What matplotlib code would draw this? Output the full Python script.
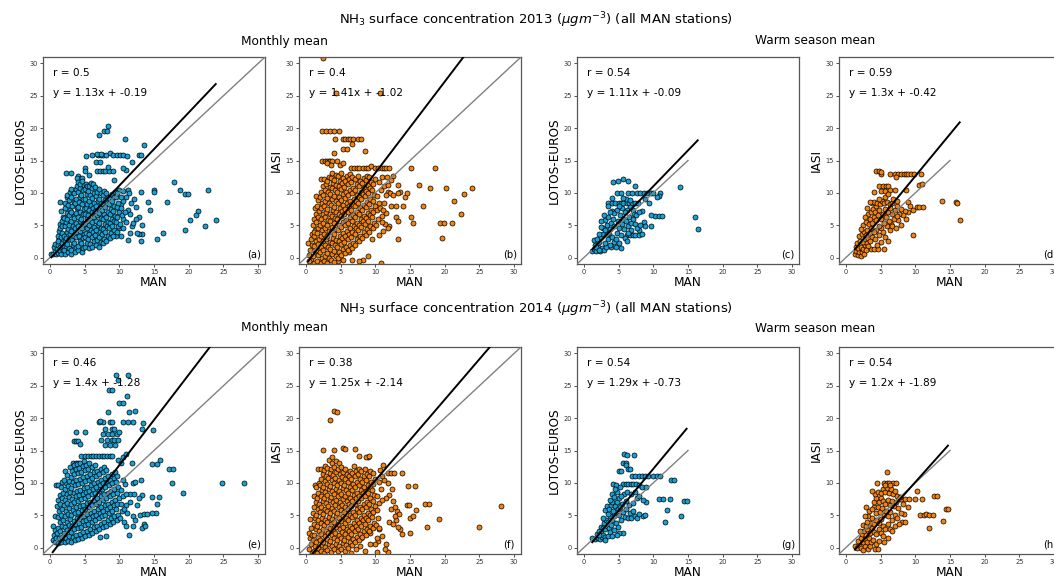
import numpy as np
import matplotlib
matplotlib.use("Agg")
import matplotlib.pyplot as plt

# ---------------- data (MAN, model/satellite) ----------------
a_pts = [
(8.4,20.3),(7.0,19.0),(7.8,19.6),(8.2,19.6),(10.8,18.4),(13.6,17.4),
(5.2,15.7),(6.0,15.8),(6.9,15.9),(7.3,15.9),(7.6,15.8),(8.1,15.9),(8.7,16.2),(9.1,15.8),(9.6,15.8),(10.1,15.8),(10.5,15.8),(11.1,15.7),(12.8,15.8),(13.1,15.8),
(6.8,16.0),(7.3,16.0),
(2.3,13.0),(3.1,13.0),(5.1,13.9),(6.8,13.3),(7.2,13.4),(7.6,13.3),(8.0,13.4),(8.5,13.3),(9.1,13.4),(11.9,14.8),(11.0,13.6),(10.6,13.9),(6.6,14.7),(7.2,14.7),(8.3,14.0),(4.1,12.6),(4.3,12.1),(3.9,12.3),(4.6,12.3),(5.0,13.3),(9.2,12.0),(5.6,12.7),
(17.9,11.6),(18.7,10.5),(19.5,9.8),(19.9,9.8),(22.8,10.5),(15.0,10.5),(15.0,10.1),(13.1,10.1),(16.9,8.6),(14.1,8.6),(14.4,7.4),(12.4,7.8),(21.3,7.2),(21.1,6.6),(20.2,5.8),(23.9,5.8),(22.3,4.9),(19.5,4.3),(16.3,3.8),(15.5,2.8),(13.1,2.5),(13.3,3.7),(12.9,3.7),(11.8,4.8),(13.3,5.0),(11.3,2.7),(12.5,3.8),
(10.0,10.5),(10.5,10.3),(11.2,10.4),(11.4,9.9),(10.9,9.4),(12.1,9.0),(11.7,8.4),(11.2,7.3),(11.6,6.8),(12.8,6.3),(10.6,6.0),(10.9,5.5),(12.0,5.4),(10.0,4.6),(10.2,3.3),(9.5,3.4),(11.6,3.8),(12.4,5.9),(10.2,8.3),(9.9,7.3),
(0.2,0.5),(0.5,0.6),(0.7,1.1),(0.6,1.6),(0.9,0.5),(0.8,2.1),
(1.1,0.7),(1.0,1.3),(1.2,2.0),(1.3,2.8),(1.1,3.4),(1.4,1.0),(1.3,4.1),(1.4,5.2),(1.2,2.5),
(1.6,0.6),(1.5,1.6),(1.7,2.3),(1.6,3.1),(1.8,3.8),(1.5,4.5),(1.7,5.6),(1.9,6.3),(1.6,7.2),(1.5,8.6),(1.9,1.2),(1.8,4.9),
(2.1,0.5),(2.0,1.1),(2.3,1.8),(2.2,2.6),(2.0,3.3),(2.4,4.0),(2.1,4.8),(2.3,5.5),(2.0,6.1),(2.4,6.9),(2.2,7.6),(2.1,8.5),(2.4,9.3),(2.3,3.0),
(2.6,0.8),(2.8,1.4),(2.5,2.1),(2.7,2.9),(2.9,3.6),(2.6,4.4),(2.8,5.1),(2.5,5.9),(2.7,6.6),(2.9,7.4),(2.6,8.1),(2.8,8.9),(2.5,9.7),(2.9,10.2),
(3.1,0.6),(3.0,1.2),(3.3,1.9),(3.2,2.7),(3.4,3.4),(3.0,4.1),(3.3,4.9),(3.1,5.6),(3.4,6.4),(3.0,7.1),(3.2,7.9),(3.4,8.6),(3.1,9.4),(3.3,10.1),(3.0,10.6),
(3.6,0.9),(3.8,1.6),(3.5,2.3),(3.7,3.1),(3.9,3.9),(3.6,4.6),(3.8,5.4),(3.5,6.1),(3.7,6.9),(3.9,7.6),(3.6,8.4),(3.8,9.1),(3.5,9.9),(3.7,10.6),(3.9,11.1),
(4.1,1.1),(4.0,1.8),(4.3,2.6),(4.2,3.3),(4.4,4.1),(4.0,4.8),(4.3,5.6),(4.1,6.3),(4.4,7.1),(4.0,7.8),(4.2,8.6),(4.4,9.3),(4.1,10.1),(4.3,10.8),(4.0,11.6),(4.4,11.3),
(4.6,0.9),(4.8,1.5),(4.5,2.2),(4.7,3.0),(4.9,3.7),(4.6,4.5),(4.8,5.2),(4.5,6.0),(4.7,6.7),(4.9,7.5),(4.6,8.2),(4.8,9.0),(4.5,9.7),(4.7,10.5),(4.9,11.2),(4.6,11.8),
(5.1,1.6),(5.3,2.3),(5.0,3.1),(5.2,3.8),(5.4,4.6),(5.1,5.3),(5.3,6.1),(5.0,6.8),(5.2,7.6),(5.4,8.3),(5.1,9.1),(5.3,9.8),(5.0,10.6),(5.2,11.3),(5.4,11.0),
(5.6,1.4),(5.8,2.1),(5.5,2.8),(5.7,3.6),(5.9,4.3),(5.6,5.1),(5.8,5.8),(5.5,6.6),(5.7,7.3),(5.9,8.1),(5.6,8.8),(5.8,9.6),(5.5,10.3),(5.7,11.1),(5.9,11.5),
(6.1,1.7),(6.3,2.5),(6.0,3.2),(6.2,4.0),(6.4,4.7),(6.1,5.5),(6.3,6.2),(6.0,7.0),(6.2,7.7),(6.4,8.5),(6.1,9.2),(6.3,10.0),(6.0,10.7),(6.2,11.3),
(6.6,2.0),(6.8,2.7),(6.5,3.5),(6.7,4.2),(6.9,5.0),(6.6,5.7),(6.8,6.5),(6.5,7.2),(6.7,8.0),(6.9,8.7),(6.6,9.5),(6.8,10.2),(6.5,10.9),
(7.1,1.6),(7.3,2.4),(7.0,3.1),(7.2,3.9),(7.4,4.6),(7.1,5.4),(7.3,6.1),(7.0,6.9),(7.2,7.6),(7.4,8.4),(7.1,9.1),(7.3,9.9),(7.0,10.6),
(7.6,2.2),(7.8,2.9),(7.5,3.7),(7.7,4.4),(7.9,5.2),(7.6,5.9),(7.8,6.7),(7.5,7.4),(7.7,8.2),(7.9,8.9),(7.6,9.7),(7.8,10.3),
(8.1,2.5),(8.3,3.3),(8.0,4.0),(8.2,4.8),(8.4,5.5),(8.1,6.3),(8.3,7.0),(8.0,7.8),(8.2,8.5),(8.4,9.3),(8.1,10.0),
(8.6,3.0),(8.8,3.8),(8.5,4.5),(8.7,5.3),(8.9,6.0),(8.6,6.8),(8.8,7.5),(8.5,8.3),(8.7,9.0),(8.9,9.8),
(9.1,3.4),(9.3,4.2),(9.0,4.9),(9.2,5.7),(9.4,6.4),(9.1,7.2),(9.3,7.9),(9.0,8.7),(9.2,9.4),(9.4,10.2),
(9.6,4.0),(9.8,4.8),(9.5,5.5),(9.7,6.3),(9.9,7.0),(9.6,7.8),(9.8,8.5),(9.5,9.3),(9.7,10.0),
(10.1,5.2),(10.4,6.6),(10.3,7.6),(10.6,8.8),(10.2,9.4),(10.8,7.0),(10.5,4.5),
]

b_pts = [
(2.5,30.8),(4.3,25.4),(10.7,25.4),
(2.3,19.5),(2.9,19.5),(3.5,19.5),(4.8,19.5),(4.0,19.5),
(4.2,18.4),(5.3,18.4),(5.7,18.4),(6.0,18.4),(6.4,18.4),(6.8,18.4),(7.5,18.4),(7.9,18.4),
(5.4,16.8),(5.9,16.8),(4.0,16.1),(8.5,16.5),(6.6,17.5),
(2.3,15.0),(2.7,15.0),(3.0,15.0),(3.3,15.0),(3.5,15.0),(3.8,15.0),(4.5,15.0),(4.9,14.3),(5.3,14.6),(3.1,14.6),(3.6,14.3),
(6.5,13.9),(6.9,13.9),(7.3,13.9),(7.7,13.9),(8.2,13.9),(8.6,13.9),(8.9,13.9),(9.4,14.1),(10.0,13.9),(10.4,13.9),(10.9,13.9),(11.3,13.9),(11.6,13.9),(12.0,13.9),(15.1,13.9),(18.6,13.9),
(13.3,11.2),(16.3,11.2),(17.9,10.7),(20.2,10.7),(23.9,10.7),(22.8,9.8),(21.4,8.7),(16.9,7.9),(22.3,6.8),(21.1,5.4),(19.3,5.4),(19.9,5.4),(19.6,3.0),(15.1,6.2),(15.5,5.4),(13.3,2.8),(13.0,6.2),(13.3,5.6),(14.3,9.4),(14.0,8.0),(13.6,10.2),(14.6,9.9),(12.3,8.0),(13.0,8.0),(12.0,4.9),(11.8,10.2),(12.1,10.0),(12.5,9.7),(12.6,12.6),(12.2,12.0),(13.2,10.0),(11.4,5.2),(11.0,6.4),(11.6,6.9),(11.1,4.1),(10.5,3.5),(9.5,2.8),(11.8,4.6),(10.8,-0.8),(9.0,0.3),(8.2,-0.4),(7.6,-0.6),(6.7,-0.4),(6.2,0.9),(5.4,-0.4),(4.6,-0.5),
(0.3,2.3),(0.5,0.4),(0.6,1.2),(0.8,-0.3),(0.7,2.9),(0.9,1.9),(0.4,-0.6),(0.9,3.6),
(1.1,-0.8),(1.0,0.2),(1.3,1.0),(1.2,1.8),(1.4,2.6),(1.1,3.4),(1.3,4.3),(1.0,5.1),(1.2,6.0),(1.4,6.8),(1.1,4.0),(1.3,7.7),
(1.6,-0.5),(1.8,0.4),(1.5,1.2),(1.7,2.1),(1.9,2.9),(1.6,3.8),(1.8,4.6),(1.5,5.5),(1.7,6.3),(1.9,7.2),(1.6,8.0),(1.8,8.9),(1.5,9.5),
(2.1,-0.9),(2.3,0.0),(2.0,0.8),(2.2,1.7),(2.4,2.5),(2.1,3.4),(2.3,4.2),(2.0,5.1),(2.2,5.9),(2.4,6.8),(2.1,7.6),(2.3,8.5),(2.0,9.3),(2.2,10.2),(2.4,11.0),(2.1,12.2),
(2.6,-0.6),(2.8,0.3),(2.5,1.1),(2.7,2.0),(2.9,2.8),(2.6,3.7),(2.8,4.5),(2.5,5.4),(2.7,6.2),(2.9,7.1),(2.6,7.9),(2.8,8.8),(2.5,9.6),(2.7,10.5),(2.9,11.3),(2.6,12.1),
(3.1,-0.9),(3.3,-0.1),(3.0,0.7),(3.2,1.6),(3.4,2.4),(3.1,3.3),(3.3,4.1),(3.0,5.0),(3.2,5.8),(3.4,6.7),(3.1,7.5),(3.3,8.4),(3.0,9.2),(3.2,10.1),(3.4,10.9),(3.1,11.8),(3.3,12.5),
(3.6,-0.4),(3.8,0.5),(3.5,1.3),(3.7,2.2),(3.9,3.0),(3.6,3.9),(3.8,4.7),(3.5,5.6),(3.7,6.4),(3.9,7.3),(3.6,8.1),(3.8,9.0),(3.5,9.8),(3.7,10.7),(3.9,11.5),(3.6,12.3),(3.8,13.0),
(4.1,-0.7),(4.3,0.2),(4.0,1.0),(4.2,1.9),(4.4,2.7),(4.1,3.6),(4.3,4.4),(4.0,5.3),(4.2,6.1),(4.4,7.0),(4.1,7.8),(4.3,8.7),(4.0,9.5),(4.2,10.4),(4.4,11.2),(4.1,12.0),(4.3,12.8),
(4.6,0.0),(4.8,0.8),(4.5,1.7),(4.7,2.5),(4.9,3.4),(4.6,4.2),(4.8,5.1),(4.5,5.9),(4.7,6.8),(4.9,7.6),(4.6,8.5),(4.8,9.3),(4.5,10.2),(4.7,11.0),(4.9,11.9),(4.6,12.6),
(5.1,0.4),(5.3,1.3),(5.0,2.1),(5.2,3.0),(5.4,3.8),(5.1,4.7),(5.3,5.5),(5.0,6.4),(5.2,7.2),(5.4,8.1),(5.1,8.9),(5.3,9.8),(5.0,10.6),(5.2,11.5),(5.4,12.3),(5.1,13.0),
(5.6,0.7),(5.8,1.6),(5.5,2.4),(5.7,3.3),(5.9,4.1),(5.6,5.0),(5.8,5.8),(5.5,6.7),(5.7,7.5),(5.9,8.4),(5.6,9.2),(5.8,10.1),(5.5,10.9),(5.7,11.8),(5.9,12.6),
(6.1,1.1),(6.3,1.9),(6.0,2.8),(6.2,3.6),(6.4,4.5),(6.1,5.3),(6.3,6.2),(6.0,7.0),(6.2,7.9),(6.4,8.7),(6.1,9.6),(6.3,10.4),(6.0,11.3),(6.2,12.1),(6.4,12.9),
(6.6,1.5),(6.8,2.3),(6.5,3.2),(6.7,4.0),(6.9,4.9),(6.6,5.7),(6.8,6.6),(6.5,7.4),(6.7,8.3),(6.9,9.1),(6.6,10.0),(6.8,10.8),(6.5,11.7),(6.7,12.5),
(7.1,2.0),(7.3,2.8),(7.0,3.7),(7.2,4.5),(7.4,5.4),(7.1,6.2),(7.3,7.1),(7.0,7.9),(7.2,8.8),(7.4,9.6),(7.1,10.5),(7.3,11.3),(7.0,12.2),
(7.6,2.6),(7.8,3.4),(7.5,4.3),(7.7,5.1),(7.9,6.0),(7.6,6.8),(7.8,7.7),(7.5,8.5),(7.7,9.4),(7.9,10.2),(7.6,11.1),(7.8,11.9),(7.5,12.6),
(8.1,3.0),(8.3,3.9),(8.0,4.7),(8.2,5.6),(8.4,6.4),(8.1,7.3),(8.3,8.1),(8.0,9.0),(8.2,9.8),(8.4,10.7),(8.1,11.5),(8.3,12.3),
(8.6,3.5),(8.8,4.4),(8.5,5.2),(8.7,6.1),(8.9,6.9),(8.6,7.8),(8.8,8.6),(8.5,9.5),(8.7,10.3),(8.9,11.2),(8.6,12.0),(8.8,12.6),
(9.1,4.0),(9.3,4.8),(9.0,5.7),(9.2,6.5),(9.4,7.4),(9.1,8.2),(9.3,9.1),(9.0,9.9),(9.2,10.8),(9.4,11.6),(9.1,12.4),
(9.6,4.5),(9.8,5.3),(9.5,6.2),(9.7,7.0),(9.9,7.9),(9.6,8.7),(9.8,9.6),(9.5,10.4),(9.7,11.3),(9.9,12.1),
(10.1,5.0),(10.4,6.0),(10.2,7.3),(10.6,8.4),(10.3,9.5),(10.8,10.4),(10.5,11.6),(10.9,12.5),(10.7,7.6),(10.9,5.5),
(11.2,8.5),(11.5,9.6),(11.3,11.0),(11.7,12.4),(11.1,7.4),(11.9,11.2),
]

c_pts = [
(4.2,11.7),(4.9,11.8),(5.7,12.2),(6.4,11.9),(7.3,11.1),
(4.7,10.0),(5.3,10.0),(6.4,10.0),(6.9,10.0),(7.6,10.0),(8.1,10.0),(8.6,10.0),(9.1,10.0),(9.6,10.0),(10.0,10.0),(10.9,9.9),(10.8,9.5),(10.6,9.3),
(13.8,10.9),
(3.5,8.5),(4.1,8.5),(4.5,8.5),(5.0,8.5),(5.3,8.5),(5.7,8.5),(6.2,8.5),(6.5,8.5),(6.9,8.4),(7.3,8.5),(9.4,8.4),(8.8,9.0),
(10.3,6.4),(10.8,6.4),(11.2,6.4),(9.6,6.6),
(16.0,6.3),(16.4,4.4),
(8.7,5.5),(8.8,4.8),(9.7,4.8),
(6.2,3.5),(6.7,3.5),(7.0,3.5),(7.4,3.5),(7.9,3.5),(8.3,3.6),(8.0,4.3),
(5.4,1.5),(3.9,1.6),
(1.2,1.0),(1.5,1.3),(1.8,1.0),(2.0,1.6),(2.3,1.0),(2.6,1.5),(1.6,2.0),(1.4,2.7),(2.2,2.4),(2.9,1.1),(3.2,1.7),(3.0,2.3),
(1.9,2.9),(2.5,3.1),(2.8,3.7),(2.1,3.6),(3.4,2.9),(3.6,3.6),(2.7,4.5),(3.1,4.2),(3.3,5.0),(2.4,4.7),(3.8,4.4),(4.1,3.2),(4.3,2.4),(4.6,1.6),
(3.0,5.8),(3.5,6.2),(3.9,5.4),(4.2,6.0),(4.4,4.9),(4.7,3.8),(4.9,5.6),(5.1,4.5),(5.3,3.5),(5.5,5.2),(4.0,7.2),(4.4,6.9),(3.7,7.0),(4.8,7.4),(5.2,6.5),(5.6,6.0),
(5.8,4.4),(6.0,5.6),(6.3,4.9),(6.5,6.2),(6.8,5.3),(7.1,6.0),(7.4,5.2),(7.7,4.6),(7.0,7.3),(6.6,7.8),(6.2,7.3),(5.9,7.0),(5.5,7.7),(5.0,8.0),(6.0,9.0),(5.6,9.2),(6.7,8.9),(7.8,8.5),(7.2,6.7),(4.0,9.2),(3.5,7.9),(2.9,6.6),(2.5,5.6),(1.7,1.6),
(4.6,2.8),(5.0,2.2),(5.9,3.0),(6.2,2.5),(3.8,1.9),(2.2,1.2),(3.3,3.6),
(6.8,4.3),(7.5,6.5),(8.1,5.0),(8.4,7.2),(7.9,7.0),(6.4,3.8),
]

d_pts = [
(4.3,13.3),(4.7,13.3),(5.1,12.9),(5.0,13.2),
(6.4,12.9),(7.0,12.9),(7.5,12.9),(8.0,12.9),(8.4,12.9),(8.7,12.9),(9.0,12.9),(9.4,12.9),(9.8,12.9),(10.8,12.9),(7.2,12.4),
(10.6,11.2),(10.9,11.3),
(4.1,10.2),(4.8,11.0),(5.3,11.0),(5.8,11.0),(6.1,11.0),(5.1,10.3),(5.6,10.3),(6.4,10.4),(7.0,10.4),(8.6,10.5),
(8.9,8.6),(9.3,8.0),
(13.8,8.7),(15.8,8.6),(16.0,8.5),(16.4,5.8),
(10.3,7.8),(10.6,7.8),(11.1,7.8),
(9.7,3.5),(8.7,6.0),(9.0,7.0),(9.6,7.4),(8.5,7.2),(8.0,5.0),(7.5,5.8),(8.2,6.5),
(3.6,1.3),(4.1,1.3),(4.6,1.3),(5.5,1.3),
(1.3,0.5),(1.5,1.0),(1.7,0.4),(1.9,0.8),(2.1,0.3),(2.3,0.9),(2.6,0.5),(1.4,1.6),(1.8,1.4),(2.2,1.7),(2.5,1.3),(2.8,1.9),(1.6,2.3),(2.0,2.6),(2.4,2.4),(2.7,2.9),(3.0,2.2),(3.2,3.0),
(1.9,3.3),(2.3,3.7),(2.6,4.0),(2.9,3.5),(3.1,4.3),(3.4,3.8),(3.6,4.6),(2.5,5.0),(2.9,5.5),(3.3,5.2),(3.5,6.0),(3.8,5.4),(4.0,6.3),(3.2,6.7),(3.6,7.0),(3.9,7.5),(4.2,7.0),(4.4,8.0),(3.7,8.4),(4.1,8.6),(4.5,8.5),(4.9,8.2),(5.2,8.7),(5.5,8.4),(5.9,8.6),(6.3,8.3),(6.6,8.5),(3.4,8.6),(4.7,9.0),(5.7,9.3),(6.0,9.8),
(4.3,5.8),(4.6,6.5),(4.8,7.3),(5.0,6.0),(5.3,6.8),(5.6,7.5),(5.8,6.2),(6.1,7.0),(6.4,7.6),(6.7,6.7),(7.0,7.4),(7.3,8.0),(6.9,5.9),(6.5,5.2),(6.2,5.7),(5.9,4.9),(5.5,5.4),(5.1,4.6),(4.7,4.9),(4.4,4.3),(4.0,3.9),(3.8,3.1),(3.5,2.6),(3.2,1.8),(2.9,1.2),(4.2,2.9),(4.8,3.5),(5.3,3.9),(5.7,3.2),(6.3,4.3),(6.7,4.8),(7.2,4.5),(7.6,6.8),(7.9,7.5),(6.0,2.6),(5.0,2.4),(4.5,1.9),(7.3,6.4),(3.0,7.6),(2.7,6.3),(2.2,4.4),(6.8,9.0),(7.4,8.8),
]

e_pts = [
(9.5,26.6),(11.3,26.6),(9.8,25.9),(8.5,24.3),(8.9,24.3),(11.1,23.4),(10.0,22.4),(10.5,22.4),(8.4,21.0),(11.4,21.0),(12.2,21.1),
(7.1,19.4),(7.7,19.4),(8.6,19.4),(9.0,19.4),(10.6,19.4),(11.2,19.4),(12.0,19.4),(13.4,19.3),(7.2,19.5),
(7.9,18.3),(8.9,18.3),(9.2,18.3),(13.2,18.3),(14.8,18.2),
(7.7,17.5),(8.4,17.5),(9.0,17.5),(9.6,17.5),(9.9,17.8),(7.4,16.6),(8.2,16.6),(8.9,16.6),(9.3,16.6),(9.8,16.6),(7.9,15.9),(8.7,15.9),(9.4,15.9),
(3.8,17.8),(5.0,17.8),(3.4,16.4),(3.8,16.4),(4.1,16.4),(4.4,16.0),
(4.5,14.1),(5.0,14.1),(5.5,14.1),(5.9,14.1),(6.25,14.1),(6.7,14.1),(7.1,14.1),(7.5,14.1),(7.8,14.1),(8.2,14.1),(8.7,14.1),(8.9,14.1),
(3.3,13.0),(3.6,12.5),(3.8,13.0),(4.0,13.1),(9.8,13.6),(10.5,14.0),(11.0,14.4),(10.2,13.1),(11.8,13.0),
(14.7,12.9),(15.4,12.9),(15.9,13.5),(17.1,12.1),(17.8,12.1),(17.55,9.9),(19.2,8.5),(24.85,9.96),(28.0,10.0),
(14.7,7.85),(15.65,7.85),(15.5,6.8),(15.25,5.4),(14.7,5.3),
(13.3,8.1),(12.9,7.7),(12.5,6.5),(13.0,5.1),(13.6,5.2),(14.0,5.2),(13.5,3.7),(13.2,3.0),(13.7,3.4),(11.4,1.9),(12.0,3.3),(12.0,4.8),(11.1,5.3),(12.3,4.3),
(7.2,1.6),(8.1,1.8),(12.0,10.0),(12.3,10.1),(13.1,10.4),(11.5,8.2),(12.1,8.3),(10.9,6.5),(11.6,7.0),(10.7,4.0),(11.0,3.3),
(0.4,1.1),(0.5,3.4),(0.7,0.8),(0.6,2.0),(0.9,1.5),(0.8,4.8),(0.9,9.6),(0.7,2.7),
(1.1,0.7),(1.3,1.4),(1.0,2.2),(1.2,3.0),(1.4,3.9),(1.1,4.7),(1.3,5.6),(1.0,6.4),(1.2,7.3),(1.4,8.1),(1.1,9.6),
(1.6,0.9),(1.8,1.7),(1.5,2.5),(1.7,3.4),(1.9,4.2),(1.6,5.1),(1.8,5.9),(1.5,6.8),(1.7,7.6),(1.9,8.5),(1.6,9.3),(1.8,10.2),
(2.1,0.8),(2.3,1.5),(2.0,2.3),(2.2,3.2),(2.4,4.0),(2.1,4.9),(2.3,5.7),(2.0,6.6),(2.2,7.4),(2.4,8.3),(2.1,9.1),(2.3,10.0),(2.0,10.5),(2.2,11.8),
(2.6,1.0),(2.8,1.8),(2.5,2.7),(2.7,3.5),(2.9,4.4),(2.6,5.2),(2.8,6.1),(2.5,6.9),(2.7,7.8),(2.9,8.6),(2.6,9.5),(2.8,10.3),(2.5,11.2),(2.9,12.5),
(3.1,0.9),(3.3,1.6),(3.0,2.4),(3.2,3.3),(3.4,4.1),(3.1,5.0),(3.3,5.8),(3.0,6.7),(3.2,7.5),(3.4,8.4),(3.1,9.2),(3.3,10.1),(3.0,10.9),(3.2,11.8),(3.4,12.7),
(3.6,1.1),(3.8,1.9),(3.5,2.8),(3.7,3.6),(3.9,4.5),(3.6,5.3),(3.8,6.2),(3.5,7.0),(3.7,7.9),(3.9,8.7),(3.6,9.6),(3.8,10.4),(3.5,11.3),(3.7,12.1),(3.9,12.9),
(4.1,1.3),(4.3,2.1),(4.0,3.0),(4.2,3.8),(4.4,4.7),(4.1,5.5),(4.3,6.4),(4.0,7.2),(4.2,8.1),(4.4,8.9),(4.1,9.8),(4.3,10.6),(4.0,11.5),(4.2,12.3),(4.4,13.1),
(4.6,1.5),(4.8,2.4),(4.5,3.2),(4.7,4.1),(4.9,4.9),(4.6,5.8),(4.8,6.6),(4.5,7.5),(4.7,8.3),(4.9,9.2),(4.6,10.0),(4.8,10.9),(4.5,11.7),(4.7,12.6),(4.9,13.4),
(5.1,1.8),(5.3,2.6),(5.0,3.5),(5.2,4.3),(5.4,5.2),(5.1,6.0),(5.3,6.9),(5.0,7.7),(5.2,8.6),(5.4,9.4),(5.1,10.3),(5.3,11.1),(5.0,12.0),(5.2,12.8),
(5.6,2.0),(5.8,2.9),(5.5,3.7),(5.7,4.6),(5.9,5.4),(5.6,6.3),(5.8,7.1),(5.5,8.0),(5.7,8.8),(5.9,9.7),(5.6,10.5),(5.8,11.4),(5.5,12.2),(5.7,13.1),
(6.1,2.3),(6.3,3.1),(6.0,4.0),(6.2,4.8),(6.4,5.7),(6.1,6.5),(6.3,7.4),(6.0,8.2),(6.2,9.1),(6.4,9.9),(6.1,10.8),(6.3,11.6),(6.0,12.5),
(6.6,2.6),(6.8,3.4),(6.5,4.3),(6.7,5.1),(6.9,6.0),(6.6,6.8),(6.8,7.7),(6.5,8.5),(6.7,9.4),(6.9,10.2),(6.6,11.1),(6.8,11.9),(6.5,12.8),
(7.1,2.9),(7.3,3.7),(7.0,4.6),(7.2,5.4),(7.4,6.3),(7.1,7.1),(7.3,8.0),(7.0,8.8),(7.2,9.7),(7.4,10.5),(7.1,11.4),(7.3,12.2),
(7.6,3.2),(7.8,4.0),(7.5,4.9),(7.7,5.7),(7.9,6.6),(7.6,7.4),(7.8,8.3),(7.5,9.1),(7.7,10.0),(7.9,10.8),(7.6,11.7),(7.8,12.5),
(8.1,3.4),(8.3,4.3),(8.0,5.1),(8.2,6.0),(8.4,6.8),(8.1,7.7),(8.3,8.5),(8.0,9.4),(8.2,10.2),(8.4,11.1),(8.1,12.0),
(8.6,3.6),(8.8,4.5),(8.5,5.4),(8.7,6.2),(8.9,7.1),(8.6,7.9),(8.8,8.8),(8.5,9.6),(8.7,10.5),(8.9,11.3),
(9.1,3.9),(9.3,4.8),(9.0,5.6),(9.2,6.5),(9.4,7.3),(9.1,8.2),(9.3,9.0),(9.0,9.9),(9.2,10.7),(9.4,11.6),
(9.6,4.2),(9.8,5.0),(9.5,5.9),(9.7,6.7),(9.9,7.6),(9.6,8.4),(9.8,9.3),(9.5,10.1),(9.7,11.0),
(10.1,4.5),(10.4,5.6),(10.2,6.8),(10.6,7.9),(10.3,8.9),(10.8,9.8),(10.5,10.5),(10.9,8.2),(10.7,5.9),
]

f_pts = [
(4.1,21.1),(4.45,21.0),(3.4,19.7),
(2.4,15.1),(4.1,15.1),(5.4,15.4),(5.7,15.2),(7.0,15.2),(7.7,14.2),(9.0,14.0),(8.7,14.0),(9.1,14.2),
(11.1,12.8),(11.8,11.5),(12.3,11.5),(12.7,11.5),(13.8,11.5),(14.7,9.5),(15.7,9.5),(17.1,6.8),(17.8,6.8),(14.5,6.6),(14.8,6.6),(15.9,5.8),(15.0,4.6),(15.4,4.9),(17.5,3.2),(19.2,4.4),(24.9,3.2),(28.1,6.4),(13.8,2.1),(15.0,2.3),(13.5,2.8),(13.3,3.2),(13.0,4.2),(13.1,5.7),(13.4,5.2),(12.2,5.9),(12.8,6.3),(12.0,4.0),(12.5,7.2),(12.0,8.1),(11.5,7.7),(12.4,9.0),(11.9,9.9),(11.3,10.4),(12.9,4.9),(12.6,3.6),
(10.4,1.0),(9.9,0.6),(9.2,0.6),(11.5,0.5),(10.3,-0.7),(11.8,-0.7),(11.4,-0.3),(8.5,-0.6),(7.8,0.2),(7.2,-0.3),(8.0,1.5),(9.3,2.2),(10.5,2.8),(11.0,1.8),(6.5,-0.8),
(0.4,2.3),(0.5,-0.2),(0.7,0.6),(0.6,1.4),(0.9,-0.8),(0.8,3.0),(0.9,2.0),(0.6,4.4),
(1.1,-0.6),(1.3,0.3),(1.0,1.1),(1.2,2.0),(1.4,2.8),(1.1,3.7),(1.3,4.5),(1.0,5.4),(1.2,6.2),(1.4,7.1),(1.1,8.0),(1.3,9.6),
(1.6,-0.9),(1.8,0.0),(1.5,0.8),(1.7,1.7),(1.9,2.5),(1.6,3.4),(1.8,4.2),(1.5,5.1),(1.7,5.9),(1.9,6.8),(1.6,7.6),(1.8,8.5),(1.5,9.3),(1.9,10.0),(1.7,12.1),
(2.1,-0.5),(2.3,0.4),(2.0,1.2),(2.2,2.1),(2.4,2.9),(2.1,3.8),(2.3,4.6),(2.0,5.5),(2.2,6.3),(2.4,7.2),(2.1,8.0),(2.3,8.9),(2.0,9.7),(2.2,10.6),(2.4,11.4),(2.1,12.2),
(2.6,-0.8),(2.8,0.1),(2.5,0.9),(2.7,1.8),(2.9,2.6),(2.6,3.5),(2.8,4.3),(2.5,5.2),(2.7,6.0),(2.9,6.9),(2.6,7.7),(2.8,8.6),(2.5,9.4),(2.7,10.3),(2.9,11.1),(2.6,12.0),(2.8,12.6),
(3.1,-0.4),(3.3,0.5),(3.0,1.3),(3.2,2.2),(3.4,3.0),(3.1,3.9),(3.3,4.7),(3.0,5.6),(3.2,6.4),(3.4,7.3),(3.1,8.1),(3.3,9.0),(3.0,9.8),(3.2,10.7),(3.4,11.5),(3.1,12.3),(3.3,13.5),
(3.6,-0.7),(3.8,0.2),(3.5,1.0),(3.7,1.9),(3.9,2.7),(3.6,3.6),(3.8,4.4),(3.5,5.3),(3.7,6.1),(3.9,7.0),(3.6,7.8),(3.8,8.7),(3.5,9.5),(3.7,10.4),(3.9,11.2),(3.6,12.1),(3.8,13.0),(3.7,14.0),
(4.1,-0.3),(4.3,0.6),(4.0,1.4),(4.2,2.3),(4.4,3.1),(4.1,4.0),(4.3,4.8),(4.0,5.7),(4.2,6.5),(4.4,7.4),(4.1,8.2),(4.3,9.1),(4.0,9.9),(4.2,10.8),(4.4,11.6),(4.1,12.4),(4.3,13.4),
(4.6,-0.6),(4.8,0.3),(4.5,1.1),(4.7,2.0),(4.9,2.8),(4.6,3.7),(4.8,4.5),(4.5,5.4),(4.7,6.2),(4.9,7.1),(4.6,7.9),(4.8,8.8),(4.5,9.6),(4.7,10.5),(4.9,11.3),(4.6,12.1),(4.8,13.0),
(5.1,-0.2),(5.3,0.7),(5.0,1.5),(5.2,2.4),(5.4,3.2),(5.1,4.1),(5.3,4.9),(5.0,5.8),(5.2,6.6),(5.4,7.5),(5.1,8.3),(5.3,9.2),(5.0,10.0),(5.2,10.9),(5.4,11.7),(5.1,12.4),
(5.6,-0.5),(5.8,0.4),(5.5,1.2),(5.7,2.1),(5.9,2.9),(5.6,3.8),(5.8,4.6),(5.5,5.5),(5.7,6.3),(5.9,7.2),(5.6,8.0),(5.8,8.9),(5.5,9.7),(5.7,10.6),(5.9,11.4),(5.6,12.2),
(6.1,0.0),(6.3,0.9),(6.0,1.7),(6.2,2.6),(6.4,3.4),(6.1,4.3),(6.3,5.1),(6.0,6.0),(6.2,6.8),(6.4,7.7),(6.1,8.5),(6.3,9.4),(6.0,10.2),(6.2,11.1),(6.4,11.9),
(6.6,0.4),(6.8,1.3),(6.5,2.1),(6.7,3.0),(6.9,3.8),(6.6,4.7),(6.8,5.5),(6.5,6.4),(6.7,7.2),(6.9,8.1),(6.6,8.9),(6.8,9.8),(6.5,10.6),(6.7,11.5),(6.9,12.6),
(7.1,0.8),(7.3,1.7),(7.0,2.5),(7.2,3.4),(7.4,4.2),(7.1,5.1),(7.3,5.9),(7.0,6.8),(7.2,7.6),(7.4,8.5),(7.1,9.3),(7.3,10.2),(7.0,11.0),(7.2,11.9),
(7.6,1.2),(7.8,2.1),(7.5,2.9),(7.7,3.8),(7.9,4.6),(7.6,5.5),(7.8,6.3),(7.5,7.2),(7.7,8.0),(7.9,8.9),(7.6,9.7),(7.8,10.6),(7.5,11.4),(7.7,12.2),
(8.1,1.6),(8.3,2.5),(8.0,3.3),(8.2,4.2),(8.4,5.0),(8.1,5.9),(8.3,6.7),(8.0,7.6),(8.2,8.4),(8.4,9.3),(8.1,10.1),(8.3,11.0),(8.0,11.8),
(8.6,2.0),(8.8,2.9),(8.5,3.7),(8.7,4.6),(8.9,5.4),(8.6,6.3),(8.8,7.1),(8.5,8.0),(8.7,8.8),(8.9,9.7),(8.6,10.5),(8.8,11.4),(8.5,12.2),
(9.1,2.5),(9.3,3.3),(9.0,4.2),(9.2,5.0),(9.4,5.9),(9.1,6.7),(9.3,7.6),(9.0,8.4),(9.2,9.3),(9.4,10.1),(9.1,11.0),(9.3,11.8),
(9.6,3.0),(9.8,3.8),(9.5,4.7),(9.7,5.5),(9.9,6.4),(9.6,7.2),(9.8,8.1),(9.5,8.9),(9.7,9.8),(9.9,10.6),(9.6,11.5),
(10.1,3.5),(10.4,4.6),(10.2,5.8),(10.6,6.9),(10.3,8.0),(10.8,9.0),(10.5,10.1),(10.9,11.0),(10.7,12.0),(10.9,7.4),(10.6,3.0),(10.3,1.5),
]

g_pts = [
(5.8,14.4),(6.2,14.3),(7.2,14.3),(5.6,13.1),(6.1,13.1),(6.0,12.7),
(5.0,11.8),(5.4,11.9),(6.4,12.2),(6.7,12.2),
(6.9,11.0),(7.4,11.0),(7.9,11.0),(8.3,11.0),(8.8,11.0),(9.2,11.0),(10.0,11.0),(10.5,11.0),(11.0,11.0),
(12.6,10.4),(13.0,10.4),
(4.2,9.8),(4.6,9.7),(5.7,9.8),(6.0,9.8),(6.4,9.8),(6.8,9.8),(7.1,9.8),(7.5,9.8),(7.9,9.6),(8.3,9.4),(8.9,9.4),
(10.8,7.5),(11.4,7.5),(12.4,7.5),(14.4,7.2),(14.8,7.2),
(12.0,5.8),(11.75,4.0),(14.0,4.9),
(9.0,7.1),(8.5,7.3),(8.5,4.9),(8.8,5.0),(5.6,2.2),
(1.2,1.4),(1.6,1.3),(2.0,1.5),(2.3,1.3),(2.6,1.7),(1.9,2.1),(2.2,2.6),(2.5,2.3),(2.8,2.0),(3.1,1.6),(3.4,1.8),(2.4,3.2),(2.7,3.0),(3.0,2.8),(3.3,3.4),(2.9,3.8),(3.6,3.0),(3.8,2.4),(4.1,1.8),(2.1,1.9),
(3.2,4.3),(3.5,4.0),(3.7,4.9),(4.0,4.3),(3.4,5.2),(3.0,5.8),(3.3,6.4),(3.6,6.0),(3.9,6.6),(4.2,5.6),(4.4,4.8),(4.6,3.8),(4.9,3.2),(4.1,7.0),(3.8,7.4),(4.0,8.2),(4.3,7.8),(4.5,6.4),(4.7,7.1),(4.9,5.9),(5.1,5.0),(5.3,4.3),(5.5,6.8),(5.2,6.2),(5.0,7.6),(5.7,5.5),(5.9,4.7),(6.1,5.9),(6.3,4.6),(6.6,5.4),(6.8,4.6),(7.1,5.6),(7.4,4.8),(7.7,4.6),(8.0,5.2),(6.5,6.6),(6.0,7.2),(5.8,8.2),(6.2,8.6),(6.8,8.3),(7.3,8.6),(7.6,7.7),(7.0,6.9),(7.9,8.0),(4.8,8.6),(5.4,8.0),(4.5,9.1),(5.2,9.4),(2.8,4.5),(3.9,3.5),(4.3,2.7),(5.0,2.3),(4.7,2.0),(3.0,1.2),
]

h_pts = [
(5.85,11.6),(4.5,10.0),(5.5,10.0),(5.9,10.0),(6.2,10.0),(6.8,10.0),(7.2,9.9),
(7.6,7.5),(8.0,7.5),(8.5,7.5),(9.1,7.5),(10.0,7.5),(11.0,7.5),(10.2,8.8),(12.7,7.9),(13.1,7.9),
(10.7,5.1),(11.2,5.1),(11.6,5.2),(12.0,5.1),(12.5,5.1),(14.4,5.9),(14.7,5.9),(14.0,4.1),(12.0,3.0),(8.1,4.0),(8.5,3.9),(8.9,6.2),(8.4,5.2),
(4.05,6.2),(2.9,6.2),(3.2,4.9),(2.7,4.9),
(1.3,0.3),(1.6,0.0),(1.9,0.4),(2.2,-0.1),(2.5,-0.4),(2.8,0.2),(3.2,-0.2),(3.5,0.3),(4.2,-0.2),(4.6,-0.3),(1.8,1.0),(2.1,1.4),(2.4,0.8),(2.7,1.3),(3.0,0.9),(3.3,1.5),(3.6,0.8),(3.9,1.2),(4.3,0.6),(4.8,1.0),(2.3,2.1),(2.6,2.6),(2.9,2.0),(3.1,2.9),(3.4,2.3),(3.7,3.0),(4.0,2.4),(4.4,2.1),(4.7,2.8),(5.0,2.3),(5.3,1.8),(2.5,3.5),(2.9,3.3),(3.5,3.8),(3.8,4.5),(4.1,3.6),(4.4,4.3),(4.8,3.8),(5.1,4.4),(5.4,3.4),(5.7,2.8),(6.0,3.6),(6.3,2.9),(6.7,2.5),(7.1,3.3),(3.3,5.6),(3.7,6.0),(4.3,5.3),(4.6,6.2),(4.9,5.5),(5.2,6.1),(5.5,5.0),(5.8,5.7),(6.1,4.8),(6.4,5.5),(6.7,4.3),(7.0,5.0),(7.3,4.6),(7.7,3.6),(4.0,7.0),(4.4,7.6),(4.8,7.0),(5.1,7.7),(5.4,7.2),(5.7,6.7),(6.0,7.4),(6.3,6.5),(6.6,7.2),(6.9,6.4),(7.2,7.0),(7.5,6.1),(4.2,8.2),(4.6,8.6),(5.0,8.4),(5.3,9.0),(5.6,8.6),(5.9,9.2),(6.2,8.5),(6.5,9.0),(6.8,8.2),(7.1,8.7),(7.4,8.0),(3.8,8.8),(5.7,9.6),(6.4,9.7),(7.8,7.8),(8.2,6.8),(7.9,5.3),(6.0,1.5),(5.5,0.8),(3.0,4.0),(2.0,2.6),
]

panel_letters = ["a", "b", "c", "d", "e", "f", "g", "h"]
panel_points = [a_pts, b_pts, c_pts, d_pts, e_pts, f_pts, g_pts, h_pts]
panel_ylabels = ["LOTOS-EUROS", "IASI", "LOTOS-EUROS", "IASI",
                 "LOTOS-EUROS", "IASI", "LOTOS-EUROS", "IASI"]
r_values = [0.5, 0.4, 0.54, 0.59, 0.46, 0.38, 0.54, 0.54]
slopes = [1.13, 1.41, 1.11, 1.3, 1.4, 1.25, 1.29, 1.2]
intercepts = [-0.19, -1.02, -0.09, -0.42, -1.28, -2.14, -0.73, -1.89]
one_to_one_max = [31, 31, 15, 15, 31, 31, 15, 15]
years = [2013, 2014]
tick_values = [0, 5, 10, 15, 20, 25, 30]

BLUE = "#14a2d8"
ORANGE = "#f5820a"
colors = [BLUE, ORANGE, BLUE, ORANGE, BLUE, ORANGE, BLUE, ORANGE]

# ---------------- figure ----------------
W, H = 1054, 577
fig = plt.figure(figsize=(W / 100, H / 100), dpi=100)

col_left = [43, 299, 577, 839]
row_top = [57, 347]
ax_w, ax_h = 222, 207

def fx(px):
    return px / W

def fy(py):
    return 1 - py / H

for i in range(8):
    row, col = divmod(i, 4)
    ax = fig.add_axes([fx(col_left[col]), fy(row_top[row] + ax_h), ax_w / W, ax_h / H])
    pts = np.array(panel_points[i])
    x, y = pts[:, 0], pts[:, 1]
    ax.scatter(x, y, s=13, c=colors[i], edgecolors="black", linewidths=0.5, zorder=2)
    # 1:1 line
    lo = -1
    hi = one_to_one_max[i]
    ax.plot([lo, hi], [lo, hi], color="gray", lw=1.0, zorder=3)
    # regression line
    xr = np.array([x.min(), x.max()])
    ax.plot(xr, slopes[i] * xr + intercepts[i], color="black", lw=1.4, zorder=4)
    ax.set_xlim(-1, 31)
    ax.set_ylim(-1, 31)
    ax.set_xticks(tick_values)
    ax.set_yticks(tick_values)
    ax.tick_params(labelsize=4.8, length=2, width=0.6, pad=1.5, colors="#333333")
    for sp in ax.spines.values():
        sp.set_color("#555555")
        sp.set_linewidth(0.9)
    ax.set_xlabel("MAN", fontsize=8.7, labelpad=0.5)
    ax.set_ylabel(panel_ylabels[i], fontsize=8.7, labelpad=2)
    ax.text(0.5, 28, f"r = {r_values[i]}", fontsize=7.6)
    ax.text(0.5, 25, f"y = {slopes[i]}x + {intercepts[i]}", fontsize=7.6)
    ax.text(28.4, 0, f"({panel_letters[i]})", fontsize=7.2)

for r, yr in enumerate(years):
    ty = [20, 309][r]
    sy = [41, 327][r]
    fig.text(fx(536), fy(ty), "NH$_3$ surface concentration %d ($\\mu g m^{-3}$) (all MAN stations)" % yr,
             ha="center", va="center", fontsize=9.5)
    fig.text(fx(284), fy(sy), "Monthly mean", ha="center", va="center", fontsize=8.7)
    fig.text(fx(815), fy(sy + (2 if r else 0)), "Warm season mean", ha="center", va="center", fontsize=8.7)

fig.savefig("out.png", dpi=100)
